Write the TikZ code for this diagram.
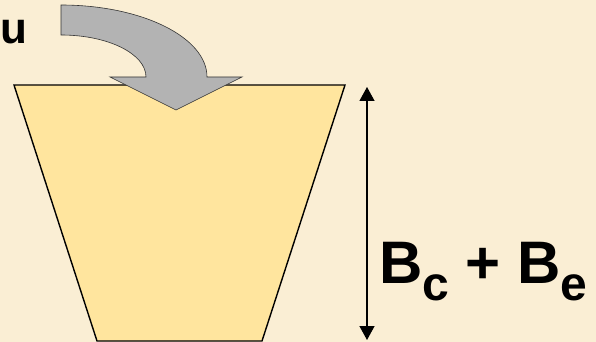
\documentclass[tikz,border=0pt]{standalone}
\usepackage{fontspec}
\setmainfont{Liberation Sans}
\usetikzlibrary{arrows.meta}
\definecolor{parchment}{HTML}{FAEED4}
\definecolor{bucket}{HTML}{FFE59E}
\definecolor{flow}{HTML}{B3B3B3}

\begin{document}
\begin{tikzpicture}[
  x=1pt, y=-1pt,
  every node/.style={font=\bfseries, inner sep=0pt},
  bucketbox/.style={draw=black, line width=1.4pt, fill=bucket, line join=miter},
  flowarrow/.style={draw=black!80, line width=0.6pt, fill=flow},
  dim/.style={{Triangle[length=14pt,width=15pt]}-{Triangle[length=14pt,width=15pt]}, line width=1.3pt},
]
  % background and page size
  \fill[parchment] (0,0) rectangle (596,342);
  \useasboundingbox (0,0) rectangle (596,342);

  % bucket
  \draw[bucketbox] (14,85) -- (345,85) -- (262,341) -- (97,341) -- cycle;

  % curved inflow arrow
  \draw[flowarrow] (61,5) arc[start angle=-90, end angle=0, x radius=146, y radius=72]
    -- (242,77) -- (176,110) -- (110,77) -- (146,77)
    arc[start angle=0, end angle=-90, x radius=85, y radius=42] -- cycle;

  \node[anchor=base west, font=\bfseries\fontsize{44}{44}\selectfont] (inflow) at (0,44) {u};

  % height of the bucket
  \coordinate (htop) at (367,87);
  \coordinate (hbot) at (367,340);
  \draw[dim] (htop) -- (hbot);

  \node[anchor=base west, font=\bfseries\fontsize{60}{60}\selectfont] (height) at (379,283)
    {B\raisebox{-17pt}{\fontsize{48}{48}\selectfont c} + B\raisebox{-17pt}{\fontsize{48}{48}\selectfont e}};
\end{tikzpicture}
\end{document}
